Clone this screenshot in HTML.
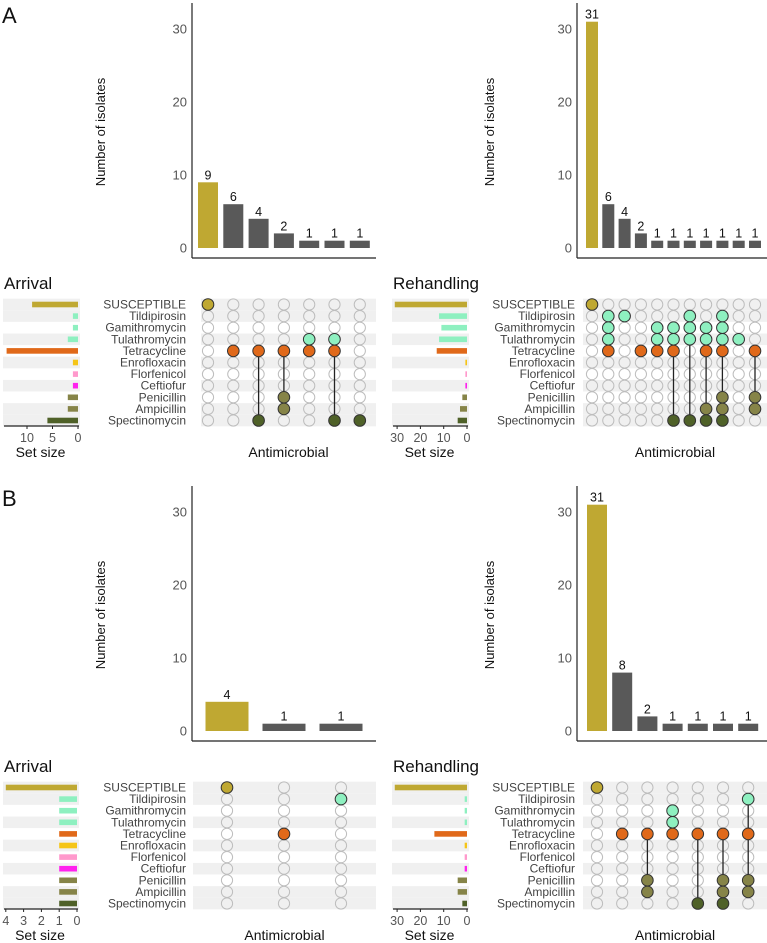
<!DOCTYPE html>
<html><head><meta charset="utf-8"><style>
html,body{margin:0;padding:0;background:#fff;}
svg{display:block;font-family:"Liberation Sans",Arial,sans-serif;}
</style></head><body>
<svg id="chart" width="767" height="943" viewBox="0 0 767 943" xmlns="http://www.w3.org/2000/svg"></svg>
<script>
const setNames=["SUSCEPTIBLE","Tildipirosin","Gamithromycin","Tulathromycin","Tetracycline","Enrofloxacin","Florfenicol","Ceftiofur","Penicillin","Ampicillin","Spectinomycin"];
const setColors=["#bfa832","#8ef0c0","#8ef0c0","#8ef0c0","#e0691a","#f5c518","#ff99cc","#ff22ee","#868448","#868448","#4f6128"];
const barTicks=[0,10,20,30];

const aArrCounts=[9,6,4,2,1,1,1];
const aArrCombos=[[0],[4],[4,10],[4,8,9],[3,4],[3,4,10],[10]];
const aArrSizes=[9,1,1,2,14,1,1,1,2,2,6];
const aArrSizeTicks=[10,5,0];

const aRehCounts=[31,6,4,2,1,1,1,1,1,1,1];
const aRehCombos=[[0],[1,2,3,4],[1],[4],[2,3,4],[2,3,4,10],[1,2,3,10],[2,3,4,9,10],[1,2,3,4,8,9,10],[3],[4,8,9]];
const aRehSizes=[31,12,11,12,13,0.7,0.7,0.7,2,3,4];
const aRehSizeTicks=[30,20,10,0];

const bArrCounts=[4,1,1];
const bArrCombos=[[0],[4],[1]];
const bArrSizes=[4,1,1,1,1,1,1,1,1,1,1];
const bArrSizeTicks=[4,3,2,1,0];

const bRehCounts=[31,8,2,1,1,1,1];
const bRehCombos=[[0],[4],[4,8,9],[2,3,4],[4,10],[4,8,9,10],[1,4,8,9]];
const bRehSizes=[31,1,1,1,14,1,1,1,4,4,2];
const bRehSizeTicks=[30,20,10,0];

const svg=document.getElementById('chart');
const NS="http://www.w3.org/2000/svg";
function mk(tag,attrs,parent,text){
  const e=document.createElementNS(NS,tag);
  for(const k in attrs)e.setAttribute(k,attrs[k]);
  if(text!==undefined)e.textContent=text;
  (parent||svg).appendChild(e);return e;
}

function panel(cfg){
  const g=mk('g',{});
  
  
  const oy=cfg.oy;
  const barY=v=>oy+248-v*7.3;
  const colX=i=>cfg.col0+i*cfg.step;
  const rowY=i=>oy+304.5+i*11.6;
  const sizeX=v=>cfg.sizeZero-v*cfg.sizeScale;
  const ya=mk('line',{x1:cfg.axisX,y1:oy+3,x2:cfg.axisX,y2:oy+258,stroke:'#222','stroke-width':1.2},g);
  
  
  const xa=mk('line',{x1:cfg.axisX,y1:oy+258,x2:cfg.right,y2:oy+258,stroke:'#222','stroke-width':1.2},g);
  
  
  barTicks.forEach(t=>{
    const tl=mk('text',{x:cfg.axisX-5,y:barY(t)+4.5,'text-anchor':'end','font-size':13,fill:'#555'},g,String(t));
    
    
  });
  const yt=mk('text',{x:0,y:0,'text-anchor':'middle','font-size':13,fill:'#111',transform:`translate(${cfg.ylabX},${oy+132}) rotate(-90)`},g,'Number of isolates');
  
  
  cfg.counts.forEach((c,i)=>{
    const x=colX(i);
    const r=mk('rect',{x:x-cfg.bw/2,y:barY(c),width:cfg.bw,height:barY(0)-barY(c),fill:i===0?'#bfa832':'#595959'},g);
    
    
    const l=mk('text',{x:x,y:barY(c)-3,'text-anchor':'middle','font-size':12.5,fill:'#111'},g,String(c));
    
    
  });
  const ti=mk('text',{x:cfg.sizeLeft+1,y:oy+289,'font-size':17,fill:'#111'},g,cfg.title);
  
  
  const stripes=[0,1,3,5,7,9,10];
  stripes.forEach(i=>{
    const s1=mk('rect',{x:cfg.sizeLeft,y:rowY(i)-5.8,width:cfg.sizeZero+2-cfg.sizeLeft,height:11.6,fill:'#f0f0f0'},g);
    
    
    const s2=mk('rect',{x:cfg.matLeft,y:rowY(i)-5.8,width:cfg.right-cfg.matLeft,height:11.6,fill:'#f0f0f0'},g);
    
    
  });
  cfg.sizes.forEach((v,i)=>{
    const r=mk('rect',{x:sizeX(v),y:rowY(i)-2.8,width:sizeX(0)-sizeX(v),height:5.6,fill:setColors[i]},g);
    
    
    const lb=mk('text',{x:cfg.labelX,y:rowY(i)+4,'text-anchor':'end','font-size':12,fill:'#444'},g,setNames[i]);
    
    
  });
  const sa=mk('line',{x1:cfg.sizeLeft+1,y1:oy+426,x2:cfg.sizeZero+1,y2:oy+426,stroke:'#222','stroke-width':1.2},g);
  
  
  cfg.sizeTicks.forEach(t=>{
    mk('line',{x1:sizeX(t),y1:oy+426,x2:sizeX(t),y2:oy+429,stroke:'#222'},g);
    const tl=mk('text',{x:sizeX(t),y:oy+442,'text-anchor':'middle','font-size':12.5,fill:'#555'},g,String(t));
    
    
  });
  const st=mk('text',{x:(cfg.sizeLeft+cfg.sizeZero)/2,y:oy+457,'text-anchor':'middle','font-size':14,fill:'#111'},g,'Set size');
  
  
  const at=mk('text',{x:(cfg.matLeft+cfg.right)/2,y:oy+457,'text-anchor':'middle','font-size':14,fill:'#111'},g,'Antimicrobial');
  
  
  cfg.combos.forEach((combo,ci)=>{
    const x=colX(ci);
    for(let r=0;r<setNames.length;r++){
      const e=mk('circle',{cx:x,cy:rowY(r),r:5.6,fill:'none',stroke:'#bdbdbd','stroke-width':1},g);
      
      
    }
    if(combo.length>1){
      const ln=mk('line',{x1:x,y1:rowY(Math.min(...combo)),x2:x,y2:rowY(Math.max(...combo)),stroke:'#222','stroke-width':1.3},g);
      
      
    }
    combo.forEach(r=>{
      const d=mk('circle',{cx:x,cy:rowY(r),r:5.8,fill:setColors[r],stroke:'#333','stroke-width':1},g);
      
      
    });
  });
}

const la=mk('text',{x:2,y:23,'font-size':22,fill:'#111'},svg,'A');


const lbB=mk('text',{x:2,y:506,'font-size':22,fill:'#111'},svg,'B');



panel({name:'panel-a-arrival',oy:0,title:'Arrival',counts:aArrCounts,combos:aArrCombos,sizes:aArrSizes,sizeTicks:aArrSizeTicks,
  axisX:192,right:376,col0:208,step:25.3,bw:20,ylabX:105,sizeLeft:3,sizeZero:78,sizeScale:5.1,matLeft:201,labelX:186});
panel({name:'panel-a-rehandling',oy:0,title:'Rehandling',counts:aRehCounts,combos:aRehCombos,sizes:aRehSizes,sizeTicks:aRehSizeTicks,
  axisX:577,right:767,col0:592,step:16.3,bw:12,ylabX:494,sizeLeft:392,sizeZero:467,sizeScale:2.33,matLeft:583,labelX:575});
panel({name:'panel-b-arrival',oy:483,title:'Arrival',counts:bArrCounts,combos:bArrCombos,sizes:bArrSizes,sizeTicks:bArrSizeTicks,
  axisX:192,right:376,col0:227,step:57,bw:43,ylabX:105,sizeLeft:3,sizeZero:77,sizeScale:17.8,matLeft:193,labelX:186});
panel({name:'panel-b-rehandling',oy:483,title:'Rehandling',counts:bRehCounts,combos:bRehCombos,sizes:bRehSizes,sizeTicks:bRehSizeTicks,
  axisX:577,right:767,col0:597,step:25.2,bw:20,ylabX:494,sizeLeft:392,sizeZero:467,sizeScale:2.33,matLeft:583,labelX:575});
</script>
</body></html>
